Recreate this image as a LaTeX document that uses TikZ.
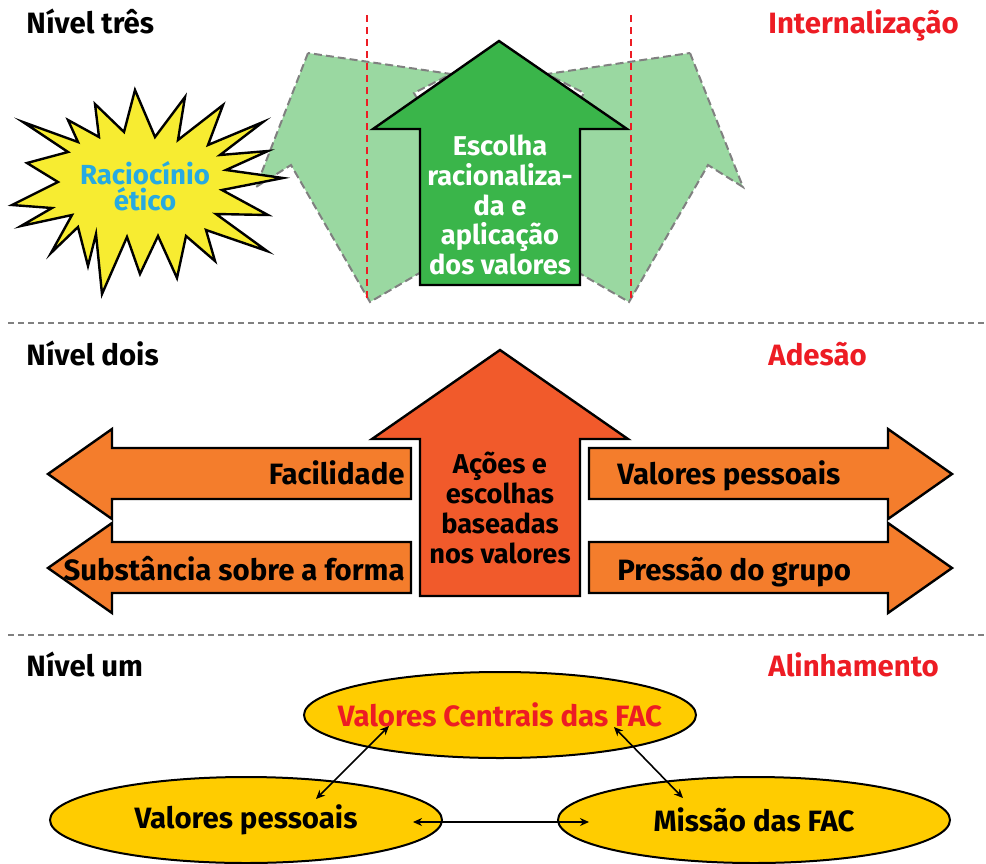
\documentclass[tikz,border=0pt]{standalone}
\usepackage{fontspec}
\setmainfont{Fira Sans}
\usetikzlibrary{arrows.meta,calc,shapes.geometric}

\definecolor{vermelhoFAC}{HTML}{ED1C24}
\definecolor{azulRac}{HTML}{27AAE1}
\definecolor{amareloEst}{HTML}{F7EC31}
\definecolor{verdeClaro}{HTML}{9AD8A1}
\definecolor{verdeEsc}{HTML}{3AB54A}
\definecolor{laranjaLado}{HTML}{F47D2C}
\definecolor{laranjaCentro}{HTML}{F15A2B}
\definecolor{ouroElipse}{HTML}{FFCC00}

\begin{document}
\begin{tikzpicture}[x=0.5pt, y=-0.5pt, >={Stealth[length=4.5pt,width=4pt]},
  font=\bfseries\fontsize{14.7}{14.75}\selectfont,
  nivel/.style={anchor=base west, inner sep=0pt},
  etapa/.style={anchor=base west, inner sep=0pt, text=vermelhoFAC},
  rotulo/.style={inner sep=0pt},
  miolo/.style={align=center, font=\bfseries\fontsize{13.6}{14.9}\selectfont},
  divisoria/.style={draw=gray, line width=0.6pt, dash pattern=on 3pt off 2pt},
  guia/.style={draw=vermelhoFAC, line width=0.6pt, dash pattern=on 3.5pt off 2.5pt},
  fantasma/.style={fill=verdeClaro, draw=gray, line width=1pt, dash pattern=on 4pt off 2pt},
  seta/.style={draw=black, line width=1.2pt, line join=miter},
  elipse/.style={ellipse, draw=black, line width=1pt, fill=ouroElipse,
    minimum width=196pt, minimum height=43pt, inner sep=0pt},
  ligacao/.style={<->, line width=0.8pt}]

\useasboundingbox (0,0) rectangle (986,863);

% Nível três
\node[nivel] (n3) at (26,33) {Nível três};
\node[etapa] (e3) at (768,33) {Internalização};

% Setas claras
\draw[fantasma] (308,53) -- (256,187) -- (291,165) -- (370,302) -- (493,230)
  -- (414,93) -- (451,74) -- cycle;
\draw[fantasma] (690,53) -- (743,187) -- (708,165) -- (629,302) -- (505,230)
  -- (584,93) -- (547,74) -- cycle;

% Estrela
\draw[seta, fill=amareloEst] (135,90) -- (155,137) -- (185,97) -- (178,140)
  -- (223,105) -- (208,145) -- (263,122) -- (220,155) -- (268,151)
  -- (226,170) -- (283,178) -- (222,190) -- (268,215) -- (216,214)
  -- (267,251) -- (206,230) -- (215,261) -- (186,236) -- (177,278)
  -- (158,236) -- (140,274) -- (127,237) -- (102,294) -- (96,234)
  -- (88,266) -- (78,227) -- (51,253) -- (72,215) -- (21,226)
  -- (52,208) -- (12,205) -- (58,182) -- (27,163) -- (68,152)
  -- (23,122) -- (78,142) -- (68,120) -- (99,137) -- (95,104)
  -- (124,132) -- cycle;
\node[text=azulRac, align=center, font=\bfseries\fontsize{13.8}{12.9}\selectfont]
  (raciocinio) at (145,186) {Raciocínio\\ético};

% Seta verde
\draw[seta, fill=verdeEsc] (499,41) -- (627,129) -- (580,129) -- (580,285)
  -- (420,285) -- (420,129) -- (373,129) -- cycle;
\node[miolo, text=white] (escolha) at (500,205)
  {Escolha\\racionaliza-\\da e\\aplicação\\dos valores};

% Linhas vermelhas
\draw[guia] (367,15) -- (367,300);
\draw[guia] (631,15) -- (631,300);

\draw[divisoria] (8,323) -- (986,323);

% Nível dois
\node[nivel] (n2) at (26,365) {Nível dois};
\node[etapa] (e2) at (768,365) {Adesão};

% Setas laterais
\foreach \yc in {474,568} {
  \draw[seta, fill=laranjaLado] (48,\yc) -- (112,\yc-45) -- (112,\yc-26)
    -- (411,\yc-26) -- (411,\yc+25) -- (112,\yc+25) -- (112,\yc+45) -- cycle;
  \draw[seta, fill=laranjaLado] (952,\yc) -- (888,\yc-45) -- (888,\yc-26)
    -- (589,\yc-26) -- (589,\yc+25) -- (888,\yc+25) -- (888,\yc+45) -- cycle;
}
\node[rotulo, anchor=base east] (facilidade) at (405,484) {Facilidade};
\node[rotulo, anchor=base east] (substancia) at (405,580) {Substância sobre a forma};
\node[rotulo, anchor=base west] (pessoaisD) at (617,484) {Valores pessoais};
\node[rotulo, anchor=base west] (pressao) at (617,580) {Pressão do grupo};

% Seta central
\draw[seta, fill=laranjaCentro] (500,350) -- (628,439) -- (580,439) -- (580,596)
  -- (420,596) -- (420,439) -- (372,439) -- cycle;
\node[miolo] (acoes) at (500,508)
  {Ações e\\escolhas\\baseadas\\nos valores};

\draw[divisoria] (8,635) -- (986,635);

% Nível um
\node[nivel] (n1) at (26,676) {Nível um};
\node[etapa] (e1) at (768,676) {Alinhamento};

\node[elipse, text=vermelhoFAC] (centrais) at (500,715)
  {\makebox[0pt]{Valores Centrais das FAC}};
\node[elipse] (pessoais) at (246,820) {\makebox[0pt]{Valores pessoais}};
\node[elipse] (missao) at (754,820) {\makebox[0pt]{Missão das FAC}};

\coordinate (c-esq) at ($(centrais)+(-111,11)$);
\coordinate (c-dir) at ($(centrais)+(114,12)$);
\coordinate (p-sup) at ($(pessoais)+(70,-21)$);
\coordinate (p-dir) at ($(pessoais)+(167,2)$);
\coordinate (m-sup) at ($(missao)+(-71,-22)$);
\coordinate (m-esq) at ($(missao)+(-165,2)$);

\draw[ligacao] (c-esq) -- (p-sup);
\draw[ligacao] (c-dir) -- (m-sup);
\draw[ligacao] (p-dir) -- (m-esq);

\end{tikzpicture}
\end{document}
